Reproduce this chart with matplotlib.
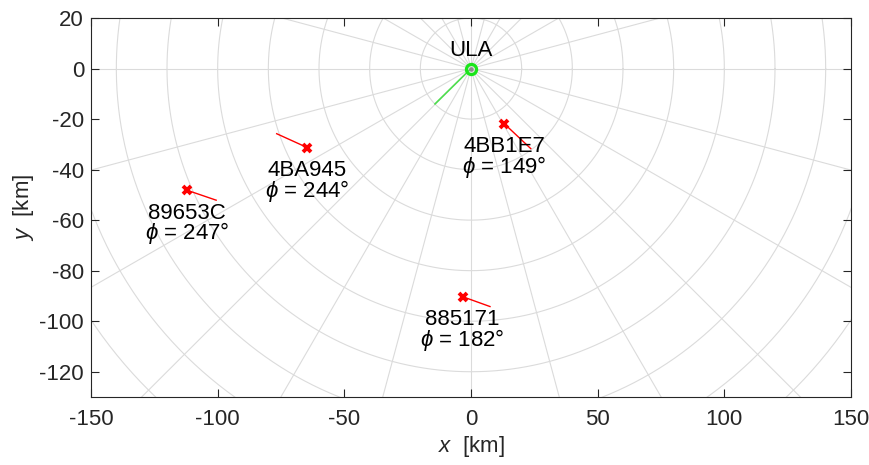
import numpy as np
import matplotlib
matplotlib.use("Agg")
import matplotlib.pyplot as plt

plt.rcParams['font.family'] = ['Liberation Sans', 'DejaVu Sans']
plt.rcParams['mathtext.fontset'] = 'custom'
plt.rcParams['mathtext.it'] = 'Liberation Sans:italic'
plt.rcParams['mathtext.rm'] = 'Liberation Sans'
plt.rcParams['axes.unicode_minus'] = False

# ---- data ----
ula_pos = (0.0, 0.0)
ula_end = (-14.2, -14.0)          # array axis end point [km]
ula_label = "ULA"

ids = ["4BB1E7", "4BA945", "89653C", "885171"]
ac_x = [13.1, -64.6, -112.0, -3.3]
ac_y = [-21.8, -31.3, -48.2, -90.3]
head_x = [23.6, -76.7, -100.6, 7.5]     # end of heading segment
head_y = [-31.7, -25.8, -52.1, -94.2]
phi_deg = [149, 244, 247, 182]

circle_radii = np.arange(20, 241, 20)
radial_angles = np.arange(0, 360, 15)

xticks = [-150, -100, -50, 0, 50, 100, 150]
yticks = [-120, -100, -80, -60, -40, -20, 0, 20]

# ---- figure ----
fig = plt.figure(figsize=(8.7, 4.65), dpi=100)
ax = fig.add_axes([91/870, (465-397)/465, 760/870, 379/465])

FS = 16
gridc = (0.86, 0.86, 0.86)
t = np.linspace(0, 2*np.pi, 721)
for r in circle_radii:
    ax.plot(r*np.cos(t), r*np.sin(t), color=gridc, lw=0.8, zorder=1)
for a in radial_angles:
    ar = np.deg2rad(a)
    ax.plot([0, 260*np.cos(ar)], [0, 260*np.sin(ar)], color=gridc, lw=0.8, zorder=1)

# ULA
ax.plot([ula_pos[0], ula_end[0]], [ula_pos[1], ula_end[1]], color=(0.3, 0.87, 0.3), lw=1.2, zorder=3)
ax.plot(*ula_pos, marker='o', ms=7.3, mfc='none', mec=(0.1, 0.9, 0.1), mew=2.3, zorder=4)
ax.plot(*ula_pos, marker='o', ms=2.2, color=(0.55, 0.55, 0.55), zorder=5)
ax.annotate(ula_label, ula_pos, xytext=(0, 9), textcoords='offset points',
            ha='center', va='baseline', fontsize=FS, color='black')

# aircraft
for i in range(len(ids)):
    ax.plot([ac_x[i], head_x[i]], [ac_y[i], head_y[i]], color='red', lw=1.0, zorder=3)
    ax.plot(ac_x[i], ac_y[i], marker='x', ms=6.3, mew=2.8, color='red', zorder=4)
    ax.annotate(f"{ids[i]}\n$\\phi$ = {phi_deg[i]}°", (ac_x[i], ac_y[i]),
                xytext=(0, -35.3), textcoords='offset points',
                ha='center', va='baseline', multialignment='center',
                linespacing=0.83, fontsize=FS, color='black')

ax.set_xlim(-150, 150)
ax.set_ylim(-130, 20)
ax.set_xticks(xticks)
ax.set_yticks(yticks)
axc = (0.15, 0.15, 0.15)
ax.tick_params(direction='in', length=5.5, width=0.8, colors=axc, labelsize=FS,
               top=True, right=True, labelcolor=axc)
ax.tick_params(axis='x', pad=8.6)
ax.tick_params(axis='y', pad=5)
for s in ax.spines.values():
    s.set_color(axc)
    s.set_linewidth(0.8)
ax.set_xlabel(r"$\it{x}$  [km]", fontsize=FS, color=axc, labelpad=3)
ax.set_ylabel(r"$\it{y}$  [km]", fontsize=FS, color=axc, labelpad=2.5)

fig.savefig("out.png", dpi=100)
